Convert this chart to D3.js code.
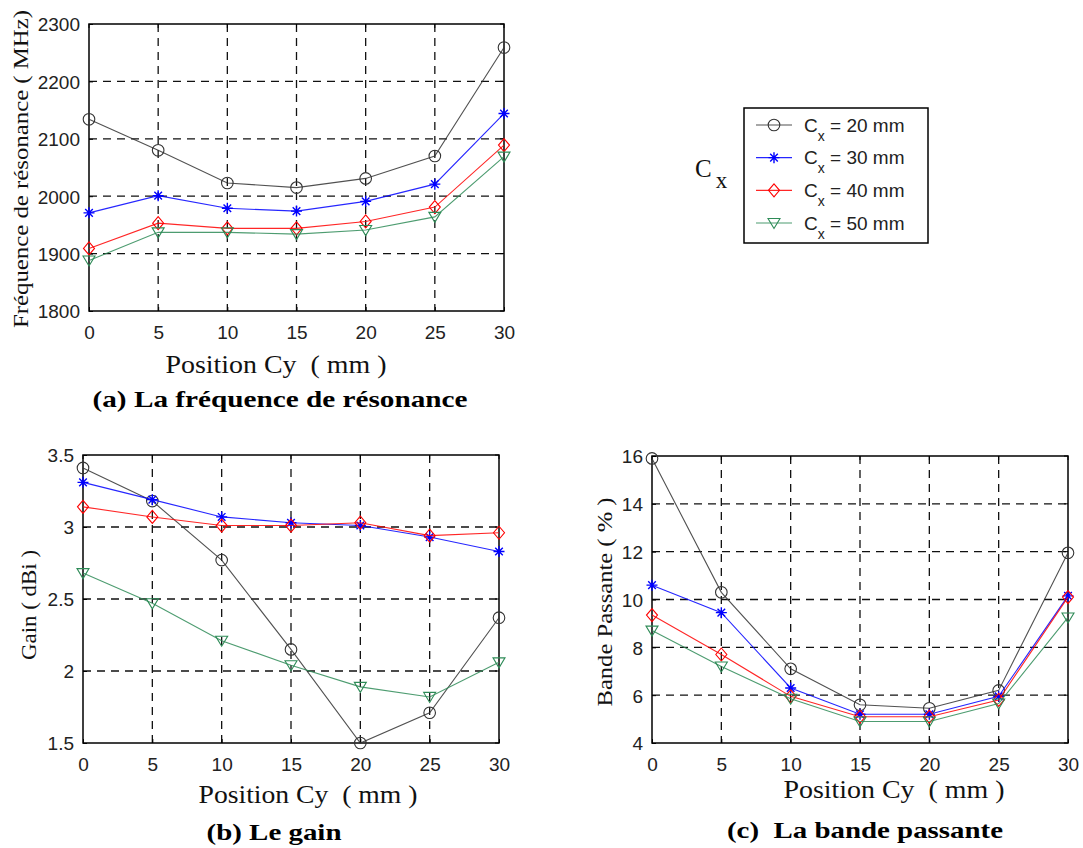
<!DOCTYPE html>
<html>
<head>
<meta charset="utf-8">
<script src="https://cdn.jsdelivr.net/npm/d3@7"></script>
<style>
  body { margin: 0; background: #fff; }
</style>
</head>
<body>
<div id="chart"></div>
<script>
// data
var positions = [0, 5, 10, 15, 20, 25, 30];
var cxLabels = ['20', '30', '40', '50'];

var freq20 = [2134, 2080, 2023, 2015, 2031, 2070, 2259];
var freq30 = [1971, 2001, 1979, 1974, 1991, 2021, 2144];
var freq40 = [1909, 1953, 1944, 1944, 1956, 1981, 2089];
var freq50 = [1888, 1937, 1937, 1934, 1941, 1964, 2069];

var gain20 = [3.41, 3.18, 2.77, 2.15, 1.50, 1.71, 2.37];
var gain30 = [3.31, 3.19, 3.07, 3.03, 3.01, 2.93, 2.83];
var gain40 = [3.14, 3.07, 3.01, 3.01, 3.03, 2.94, 2.96];
var gain50 = [2.68, 2.47, 2.21, 2.04, 1.89, 1.82, 2.06];

var band20 = [15.9, 10.3, 7.1, 5.6, 5.45, 6.2, 11.95];
var band30 = [10.6, 9.45, 6.3, 5.2, 5.2, 5.95, 10.15];
var band40 = [9.35, 7.7, 5.95, 5.1, 5.1, 5.8, 10.1];
var band50 = [8.7, 7.2, 5.85, 4.9, 4.9, 5.65, 9.25];

var xTicks = [0, 5, 10, 15, 20, 25, 30];
var freqTicks = [1800, 1900, 2000, 2100, 2200, 2300];
var gainTicks = [1.5, 2, 2.5, 3, 3.5];
var bandTicks = [4, 6, 8, 10, 12, 14, 16];

var width = 1083,
    height = 848;

var colors = ['#333333', '#0000ff', '#ff0000', '#2e8b57'];
var markers = ['circle', 'star', 'diamond', 'tri'];

var sansFont = '"Liberation Sans", Arial, sans-serif',
    serifFont = '"Liberation Serif", "Times New Roman", serif';

var panels = [
  { box: [89, 24, 504, 311], series: [freq20, freq30, freq40, freq50], ticks: freqTicks,
    yLabel: 'Fréquence de résonance ( MHz)', yLab: [28, 169, 318],
    xLab: [276, 373, 221], caption: '(a) La fréquence de résonance', cap: [280, 407, 375] },
  { box: [83, 455, 499, 743], series: [gain20, gain30, gain40, gain50], ticks: gainTicks,
    yLabel: 'Gain ( dBi )', yLab: [36, 605, 110],
    xLab: [308, 803, 219], caption: '(b) Le gain', cap: [274, 840, 135] },
  { box: [652, 456, 1068, 743], series: [band20, band30, band40, band50], ticks: bandTicks,
    yLabel: 'Bande Passante ( % )', yLab: [612, 602, 209],
    xLab: [894, 798, 221], caption: '(c)  La bande passante', cap: [865, 838, 276] }
];

var svg = d3.select('#chart')
  .append('svg')
  .attr('width', width)
  .attr('height', height)
  .style('background', '#fff');

function drawMarker(g, type, color, x, y) {
  if (type == 'circle') {
    g.append('circle')
      .attr('cx', x).attr('cy', y).attr('r', 5.8)
      .attr('fill', 'none').attr('stroke', color).attr('stroke-width', 1.1);
  } else if (type == 'star') {
    var r = 5.5, d = 3.8;
    g.append('path')
      .attr('d', 'M' + (x - r) + ',' + y + 'H' + (x + r) +
                 'M' + x + ',' + (y - r) + 'V' + (y + r) +
                 'M' + (x - d) + ',' + (y - d) + 'L' + (x + d) + ',' + (y + d) +
                 'M' + (x - d) + ',' + (y + d) + 'L' + (x + d) + ',' + (y - d))
      .attr('fill', 'none').attr('stroke', color).attr('stroke-width', 1.4);
  } else if (type == 'diamond') {
    g.append('path')
      .attr('d', 'M' + x + ',' + (y - 6.5) + 'L' + (x + 5.5) + ',' + y +
                 'L' + x + ',' + (y + 6.5) + 'L' + (x - 5.5) + ',' + y + 'Z')
      .attr('fill', 'none').attr('stroke', color).attr('stroke-width', 1.1);
  } else {
    g.append('path')
      .attr('d', 'M' + (x - 6) + ',' + (y - 4.5) + 'L' + (x + 6) + ',' + (y - 4.5) +
                 'L' + x + ',' + (y + 5.5) + 'Z')
      .attr('fill', 'none').attr('stroke', color).attr('stroke-width', 1.1);
  }
}

panels.forEach(function(p) {
  var x0 = p.box[0], y0 = p.box[1], x1 = p.box[2], y1 = p.box[3];
  var yExtent = d3.extent(p.ticks);

  var x = d3.scaleLinear().domain([0, 30]).range([x0, x1]);
  var y = d3.scaleLinear().domain(yExtent).range([y1, y0]);

  var g = svg.append('g');

  // dashed grid
  g.selectAll('.vgrid')
    .data(xTicks.slice(1, -1))
    .enter().append('line')
    .attr('x1', function(d) { return x(d); })
    .attr('x2', function(d) { return x(d); })
    .attr('y1', y0).attr('y2', y1)
    .attr('stroke', '#111').attr('stroke-width', 1.3)
    .attr('stroke-dasharray', '8,6');

  g.selectAll('.hgrid')
    .data(p.ticks.slice(1, -1))
    .enter().append('line')
    .attr('y1', function(d) { return y(d); })
    .attr('y2', function(d) { return y(d); })
    .attr('x1', x0).attr('x2', x1)
    .attr('stroke', '#111').attr('stroke-width', 1.3)
    .attr('stroke-dasharray', '8,6');

  // axes through d3 axis generators, ticks pointing inward
  var xAxis = d3.axisBottom(x).tickValues(xTicks).tickSizeInner(-4).tickSizeOuter(0).tickPadding(10);
  var yAxis = d3.axisLeft(y).tickValues(p.ticks).tickSizeInner(-4).tickSizeOuter(0).tickPadding(9)
    .tickFormat(d3.format('~g'));

  var gx = g.append('g').attr('transform', 'translate(0,' + y1 + ')').call(xAxis);
  var gy = g.append('g').attr('transform', 'translate(' + x0 + ',0)').call(yAxis);
  [gx, gy].forEach(function(a) {
    a.select('.domain').remove();
    a.selectAll('line').attr('stroke', '#000');
    a.selectAll('text')
      .attr('fill', '#222')
      .style('font-family', sansFont)
      .style('font-size', '19px');
  });
  gx.selectAll('text').attr('dy', '0.95em');
  gy.selectAll('text').attr('dy', '0.36em');

  // top and right inward ticks
  g.selectAll('.tt')
    .data(xTicks)
    .enter().append('line')
    .attr('x1', function(d) { return x(d); })
    .attr('x2', function(d) { return x(d); })
    .attr('y1', y0).attr('y2', y0 + 4)
    .attr('stroke', '#000');
  g.selectAll('.rt')
    .data(p.ticks)
    .enter().append('line')
    .attr('y1', function(d) { return y(d); })
    .attr('y2', function(d) { return y(d); })
    .attr('x1', x1).attr('x2', x1 - 4)
    .attr('stroke', '#000');

  // box
  g.append('rect')
    .attr('x', x0).attr('y', y0)
    .attr('width', x1 - x0).attr('height', y1 - y0)
    .attr('fill', 'none').attr('stroke', '#000').attr('stroke-width', 1.5);

  // series
  var line = d3.line()
    .x(function(d, i) { return x(positions[i]); })
    .y(function(d) { return y(d); });

  p.series.forEach(function(values, k) {
    g.append('path')
      .datum(values)
      .attr('d', line)
      .attr('fill', 'none')
      .attr('stroke', colors[k])
      .attr('stroke-width', 1.1)
      .attr('stroke-opacity', 0.85);
    values.forEach(function(v, i) {
      drawMarker(g, markers[k], colors[k], x(positions[i]), y(v));
    });
  });

  // labels
  g.append('text')
    .text(p.yLabel)
    .attr('transform', 'translate(' + p.yLab[0] + ',' + p.yLab[1] + ') rotate(-90)')
    .attr('text-anchor', 'middle')
    .attr('textLength', p.yLab[2])
    .attr('lengthAdjust', 'spacingAndGlyphs')
    .style('font-family', serifFont)
    .style('font-size', '22px')
    .attr('fill', '#111');

  g.append('text')
    .text('Position Cy  ( mm )')
    .attr('x', p.xLab[0]).attr('y', p.xLab[1])
    .attr('text-anchor', 'middle')
    .attr('textLength', p.xLab[2])
    .attr('lengthAdjust', 'spacingAndGlyphs')
    .style('font-family', serifFont)
    .style('font-size', '25px')
    .style('white-space', 'pre')
    .attr('fill', '#111');

  g.append('text')
    .text(p.caption)
    .attr('x', p.cap[0]).attr('y', p.cap[1])
    .attr('text-anchor', 'middle')
    .attr('textLength', p.cap[2])
    .attr('lengthAdjust', 'spacingAndGlyphs')
    .style('font-family', serifFont)
    .style('font-size', '23px')
    .style('font-weight', 'bold')
    .style('white-space', 'pre')
    .attr('fill', '#000');
});

// legend
var legend = svg.append('g');
legend.append('rect')
  .attr('x', 744).attr('y', 108)
  .attr('width', 184).attr('height', 135)
  .attr('fill', '#fff').attr('stroke', '#000').attr('stroke-width', 1.5);

var rowY = d3.scalePoint().domain(cxLabels).range([125, 223]);

cxLabels.forEach(function(c, k) {
  var yy = rowY(c);
  legend.append('line')
    .attr('x1', 756).attr('x2', 792)
    .attr('y1', yy).attr('y2', yy)
    .attr('stroke', colors[k]).attr('stroke-width', 1.1)
    .attr('stroke-opacity', 0.85);
  drawMarker(legend, markers[k], colors[k], 774, yy);
  var t = legend.append('text')
    .attr('x', 804).attr('y', yy + 6.5)
    .style('font-family', sansFont)
    .style('font-size', '19px')
    .style('white-space', 'pre')
    .attr('fill', '#222');
  t.append('tspan').text('C');
  t.append('tspan').text('x').attr('dy', 9).style('font-size', '14px');
  t.append('tspan').text(' = ' + c + ' mm').attr('dy', -9);
});

// "Cx" note left of the legend
var cx = svg.append('text')
  .attr('x', 695).attr('y', 177)
  .style('font-family', serifFont)
  .style('font-size', '25px')
  .attr('fill', '#111');
cx.append('tspan').text('C');
cx.append('tspan').text('x').attr('dy', 11).attr('dx', 4).style('font-size', '23px');
</script>
</body>
</html>
